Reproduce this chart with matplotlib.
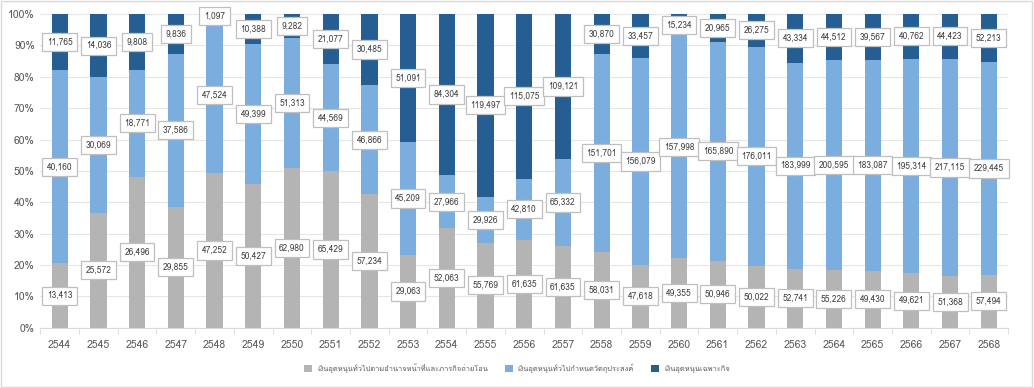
import numpy as np
import matplotlib as mpl
mpl.use('Agg')
import matplotlib.pyplot as plt
from matplotlib import font_manager
from matplotlib.ft2font import FT2Font
from matplotlib.ticker import PercentFormatter, FixedLocator

years = [str(y) for y in range(2544, 2569)]
general_transfer = [13413, 25572, 26496, 29855, 47252, 50427, 62980, 65429, 57234, 29063,
                    52063, 55769, 61635, 61635, 58031, 47618, 49355, 50946, 50022, 52741,
                    55226, 49430, 49621, 51368, 57494]
general_purpose = [40160, 30069, 18771, 37586, 47524, 49399, 51313, 44569, 46866, 45209,
                   27966, 29926, 42810, 65332, 151701, 156079, 157998, 165890, 176011, 183999,
                   200595, 183087, 195314, 217115, 229445]
specific = [11765, 14036, 9808, 9836, 1097, 10388, 9282, 21077, 30485, 51091,
            84304, 119497, 115075, 109121, 30870, 33457, 15234, 20965, 26275, 43334,
            44512, 39567, 40762, 44423, 52213]
series_names = ['เงินอุดหนุนทั่วไปตามอำนาจหน้าที่และภารกิจถ่ายโอน',
                'เงินอุดหนุนทั่วไปกำหนดวัตถุประสงค์',
                'เงินอุดหนุนเฉพาะกิจ']
colors = ['#b4b4b4', '#7badde', '#245e92']


def find_thai_font():
    for fe in font_manager.fontManager.ttflist:
        try:
            cmap = FT2Font(fe.fname).get_charmap()
        except Exception:
            continue
        if 0x0E40 in cmap and 0x0E07 in cmap:
            return fe.name
    return None


thai = find_thai_font()
fams = ([thai] if thai else []) + ['DejaVu Sans']
plt.rcParams['font.family'] = fams

data = np.array([general_transfer, general_purpose, specific], dtype=float)
pct = data / data.sum(axis=0) * 100
x = np.arange(len(years))

fig = plt.figure(figsize=(10.34, 3.88), dpi=100)
ax = fig.add_axes([0.039, 0.155, 0.936, 0.809])

bottom = np.zeros(len(years))
for i in range(3):
    ax.bar(x, pct[i], 0.42, bottom=bottom, color=colors[i], label=series_names[i], zorder=2)
    for j in range(len(years)):
        ax.text(x[j], bottom[j] + pct[i][j] / 2, f'{int(data[i][j]):,}', ha='center', va='center',
                fontsize=6, color='#404040', zorder=3,
                bbox=dict(boxstyle='square,pad=0.55', fc='white', ec='#bfbfbf', lw=0.9))
    bottom += pct[i]

ax.set_xlim(-0.5, len(years) - 0.5)
ax.set_ylim(0, 100)
ax.yaxis.set_major_locator(FixedLocator(np.arange(0, 101, 10)))
ax.yaxis.set_major_formatter(PercentFormatter(decimals=0))
ax.set_xticks(x)
ax.set_xticklabels(years)
ax.set_xticks(np.arange(-0.5, len(years)), minor=True)
ax.tick_params(axis='x', which='major', length=0, labelsize=7.5, labelcolor='#595959', pad=9)
ax.tick_params(axis='x', which='minor', length=4, color='#d9d9d9', direction='out')
ax.tick_params(axis='y', length=0, labelsize=7.5, labelcolor='#595959', pad=4)
ax.grid(axis='y', color='#e6e6e6', lw=0.8, zorder=0)
for s in ['top', 'right', 'left']:
    ax.spines[s].set_visible(False)
ax.spines['bottom'].set_color('#d9d9d9')

fig.legend(loc='center', bbox_to_anchor=(0.5, 0.05), ncol=3, frameon=False,
           fontsize=5.4, handlelength=1.0, handleheight=1.0, handletextpad=0.7,
           columnspacing=2.3, labelcolor='#595959')

fig.patches.append(plt.Rectangle((0.001, 0.002), 0.997, 0.995, transform=fig.transFigure,
                                 fill=False, ec='#d9d9d9', lw=1))

plt.savefig('out.png', dpi=100)
